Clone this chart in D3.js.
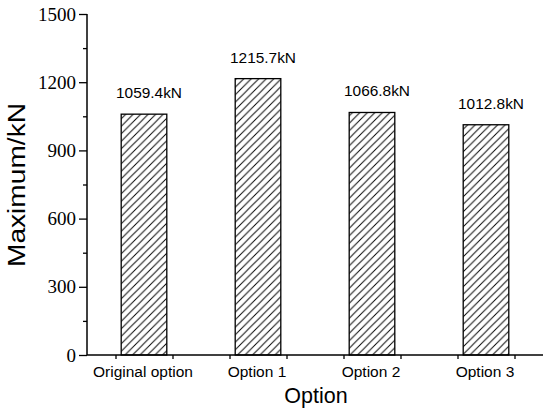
<!DOCTYPE html>
<html>
<head>
<meta charset="utf-8">
<script src="https://cdn.jsdelivr.net/npm/d3@7"></script>
<style>
  body { margin: 0; background: #fff; }
  .sans { font-family: 'Liberation Sans', Arial, sans-serif; }
  .serif { font-family: 'Liberation Serif', 'Times New Roman', serif; }
</style>
</head>
<body>
<script>
'use strict';

// chart data
const categories = ["Original option", "Option 1", "Option 2", "Option 3"];
const maxValues = [1059.4, 1215.7, 1066.8, 1012.8];
const valueLabels = ["1059.4kN", "1215.7kN", "1066.8kN", "1012.8kN"];
const yTicks = [0, 300, 600, 900, 1200, 1500];
const yMinorTicks = [150, 450, 750, 1050, 1350];
const xTicks = [-0.25, 0.25, 0.75, 1.25, 1.75, 2.25, 2.75, 3.25];

const width = 550, height = 413;

let svg = d3.select('body').append('svg')
  .attr('width', width)
  .attr('height', height);

// hatch pattern for the bars
let defs = svg.append('defs');
defs.append('pattern')
  .attr('id', 'hatch')
  .attr('patternUnits', 'userSpaceOnUse')
  .attr('width', 7.5)
  .attr('height', 7.5)
  .append('path')
    .attr('d', 'M-1,8.5 L8.5,-1 M-1,1 L1,-1 M6.5,8.5 L8.5,6.5')
    .attr('stroke', '#000')
    .attr('stroke-width', 0.95);

// x uses category index, y the value
let xScale = d3.scaleLinear().domain([-0.5, 3.5]).range([87, 543]);
let yScale = d3.scaleLinear().domain([0, 1500]).range([355, 14]);
let barW = xScale(0.4) - xScale(0);

// bars
svg.selectAll('.bar')
  .data(maxValues)
  .enter()
  .append('rect')
    .attr('class', 'bar')
    .attr('x', (d, i) => xScale(i) - barW / 2)
    .attr('y', (d) => yScale(d))
    .attr('width', barW)
    .attr('height', (d) => yScale(0) - yScale(d))
    .attr('fill', 'url(#hatch)')
    .attr('stroke', '#000')
    .attr('stroke-width', 1.3);

// value labels above bars
svg.selectAll('.vlabel')
  .data(valueLabels)
  .enter()
  .append('text')
    .attr('class', 'vlabel sans')
    .attr('x', (d, i) => xScale(i) + 5)
    .attr('y', (d, i) => yScale(maxValues[i]) - 16)
    .attr('text-anchor', 'middle')
    .attr('font-size', 14.5)
    .attr('textLength', 66)
    .attr('lengthAdjust', 'spacingAndGlyphs')
    .text((d) => d);

// y axis
let yAxis = d3.axisLeft(yScale).tickValues(yTicks).tickSize(8).tickPadding(3)
  .tickFormat(d3.format('d'));
let gy = svg.append('g')
  .attr('transform', 'translate(87,0)')
  .call(yAxis)
  .attr('font-family', null)
  .attr('font-size', null);
gy.select('.domain').attr('stroke-width', 1.5).attr('d', 'M0,14V355');
gy.selectAll('.tick line').attr('stroke-width', 1.3);
gy.selectAll('.tick text')
  .attr('class', 'serif')
  .attr('font-size', 19)
  .attr('fill', '#000');

let yMinor = d3.axisLeft(yScale).tickValues(yMinorTicks).tickSize(4).tickFormat('');
svg.append('g')
  .attr('transform', 'translate(87,0)')
  .call(yMinor)
  .call((g) => g.select('.domain').remove())
  .selectAll('.tick line').attr('stroke-width', 1.3);

// x axis
let xAxis = d3.axisBottom(xScale).tickValues(xTicks).tickSize(4).tickFormat('');
let gx = svg.append('g')
  .attr('transform', 'translate(0,355)')
  .call(xAxis);
gx.select('.domain').attr('stroke-width', 1.5).attr('d', 'M87,0H543');
gx.selectAll('.tick line').attr('stroke-width', 1.3);

// category labels
svg.selectAll('.xlabel')
  .data(categories)
  .enter()
  .append('text')
    .attr('class', 'xlabel sans')
    .attr('x', (d, i) => xScale(i) - 1)
    .attr('y', 377)
    .attr('text-anchor', 'middle')
    .attr('font-size', 15.5)
    .text((d) => d);

// axis titles
svg.append('text')
  .attr('class', 'sans')
  .attr('x', 316)
  .attr('y', 403)
  .attr('text-anchor', 'middle')
  .attr('font-size', 21.5)
  .text('Option');

svg.append('text')
  .attr('class', 'sans')
  .attr('transform', 'translate(25,185) rotate(-90)')
  .attr('text-anchor', 'middle')
  .attr('font-size', 23)
  .attr('textLength', 164)
  .attr('lengthAdjust', 'spacingAndGlyphs')
  .text('Maximum/kN');
</script>
</body>
</html>
